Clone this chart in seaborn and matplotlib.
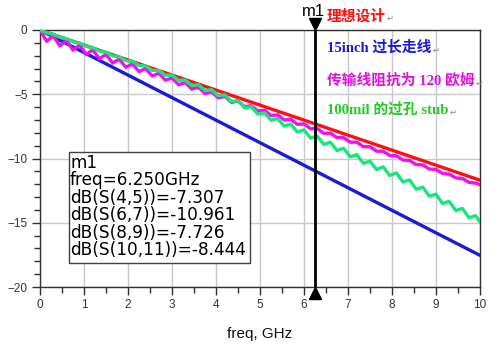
import matplotlib
matplotlib.use("Agg")
import matplotlib.pyplot as plt
import matplotlib.transforms as mtransforms
from matplotlib.patches import Rectangle
import numpy as np
import pandas as pd
import seaborn as sns

# ---------------- data ----------------
freq_line = [0.0, 10.0]
s45 = [0.0, -11.69]      # 理想设计 (red)
s67 = [0.0, -17.54]      # 15inch 过长走线 (blue)

freq_ripple = [0.00, 0.15, 0.30, 0.45, 0.60, 0.75, 0.90, 1.05, 1.20, 1.35,
               1.50, 1.65, 1.80, 1.95, 2.10, 2.25, 2.40, 2.55, 2.70, 2.85,
               3.00, 3.15, 3.30, 3.45, 3.60, 3.75, 3.90, 4.05, 4.20, 4.35,
               4.50, 4.65, 4.80, 4.95, 5.10, 5.25, 5.40, 5.55, 5.70, 5.85,
               6.00, 6.15, 6.30, 6.45, 6.60, 6.75, 6.90, 7.05, 7.20, 7.35,
               7.50, 7.65, 7.80, 7.95, 8.10, 8.25, 8.40, 8.55, 8.70, 8.85,
               9.00, 9.15, 9.30, 9.45, 9.60, 9.75, 9.90, 10.00]
# 传输线阻抗为 120 欧姆 (magenta)
s89 = [0.00, -0.88, -0.45, -1.23, -0.81, -1.57, -1.17, -1.90, -1.54, -2.24,
       -1.90, -2.57, -2.27, -2.90, -2.64, -3.24, -3.00, -3.58, -3.37, -3.91,
       -3.73, -4.26, -4.09, -4.60, -4.45, -4.94, -4.81, -5.28, -5.17, -5.63,
       -5.53, -5.97, -5.89, -6.31, -6.24, -6.65, -6.60, -7.00, -6.96, -7.34,
       -7.31, -7.69, -7.67, -8.04, -8.03, -8.38, -8.38, -8.73, -8.73, -9.08,
       -9.08, -9.43, -9.44, -9.77, -9.79, -10.12, -10.15, -10.47, -10.50, -10.82,
       -10.85, -11.17, -11.21, -11.51, -11.56, -11.86, -11.91, -12.05]
# 100mil 的过孔 stub (green)
s1011 = [0.00, -0.21, -0.32, -0.56, -0.67, -0.91, -1.01, -1.27, -1.37, -1.64,
         -1.73, -2.01, -2.08, -2.38, -2.44, -2.76, -2.80, -3.14, -3.16, -3.52,
         -3.52, -3.92, -3.89, -4.32, -4.26, -4.71, -4.64, -5.11, -5.05, -5.56,
         -5.50, -6.05, -5.97, -6.54, -6.45, -7.02, -6.89, -7.48, -7.33, -7.94,
         -7.77, -8.41, -8.25, -8.90, -8.73, -9.38, -9.20, -9.87, -9.70, -10.38,
         -10.21, -10.86, -10.65, -11.32, -11.12, -11.83, -11.67, -12.39, -12.23, -12.94,
         -12.78, -13.50, -13.34, -14.05, -13.89, -14.61, -14.45, -14.95]

marker_freq = 6.25
marker_lines = ["m1", "freq=6.250GHz", "dB(S(4,5))=-7.307", "dB(S(6,7))=-10.961",
                "dB(S(8,9))=-7.726", "dB(S(10,11))=-8.444"]
legend_labels = ["理想设计", "15inch 过长走线", "传输线阻抗为 120 欧姆", "100mil 的过孔 stub"]

c_red, c_blue, c_mag, c_green = "#ff1010", "#1a1ad8", "#f010f0", "#18e67a"

# ---------------- figure ----------------
sns.set_theme(style="white")
plt.rcParams['font.family'] = ['Liberation Sans', 'DejaVu Sans']

W, H = 500, 345
fig = plt.figure(figsize=(W / 100, H / 100), dpi=100)
ax = fig.add_axes([40 / W, 1 - 287 / H, 440 / W, 257 / H])

lw = 2.4
df_lin = pd.DataFrame({"freq": freq_line, "s45": s45, "s67": s67})
df_rip = pd.DataFrame({"freq": freq_ripple, "s89": s89, "s1011": s1011})
sns.lineplot(data=df_lin, x="freq", y="s67", color=c_blue, lw=lw, ax=ax, zorder=3)
sns.lineplot(data=df_lin, x="freq", y="s45", color=c_red, lw=lw, ax=ax, zorder=3)
sns.lineplot(data=df_rip, x="freq", y="s89", color=c_mag, lw=lw, ax=ax, zorder=3,
             sort=False, solid_joinstyle="round")
sns.lineplot(data=df_rip, x="freq", y="s1011", color=c_green, lw=lw, ax=ax, zorder=3,
             sort=False, solid_joinstyle="round")

ax.set_xlim(0, 10)
ax.set_ylim(-20, 0)
ax.set_xticks(range(0, 11))
ax.set_xticks(np.arange(0.5, 10, 1.0), minor=True)
ax.set_yticks([0, -5, -10, -15, -20])
ax.set_yticks([v for v in range(-19, 0) if v % 5 != 0], minor=True)
ax.grid(True, which="major", color="#c8c8c8", lw=1.0)
ax.set_axisbelow(True)
for sp in ax.spines.values():
    sp.set_color("#303030")
    sp.set_linewidth(1.0)
ax.tick_params(axis="both", which="major", length=6, width=1, color="#303030",
               labelsize=8.5, labelcolor="#333333", direction="out", pad=3,
               left=True, bottom=True)
ax.tick_params(axis="both", which="minor", length=4, width=1, color="#303030",
               direction="out", left=True, bottom=True)
ax.set_xlabel("freq, GHz", fontsize=11, color="#111111", labelpad=11)
ax.set_ylabel("")

# marker m1
ax.axvline(marker_freq, color="black", lw=2.0, zorder=5)
trans = mtransforms.blended_transform_factory(ax.transData, ax.transAxes)
ax.plot([marker_freq], [1.022], marker="v", ms=8, color="black", transform=trans,
        clip_on=False, zorder=6)
ax.plot([marker_freq], [-0.022], marker="^", ms=8, color="black", transform=trans,
        clip_on=False, zorder=6)
fig.text(313 / W, 1 - 11 / H, "m1", fontsize=12, ha="center", va="center", color="black")

# marker readout box
fig.patches.append(Rectangle((69 / W, 1 - 263 / H), 181 / W, 111 / H,
                             transform=fig.transFigure, facecolor="white",
                             edgecolor="#404040", lw=1.0, zorder=10))
for i, t in enumerate(marker_lines):
    fig.text(70 / W, 1 - (163 + i * 17.4) / H, t, fontsize=12.2, ha="left", va="center",
             color="black", zorder=11, family=['DejaVu Sans'])

# annotation legend
leg_fam = ['Liberation Serif', 'Noto Sans CJK SC', 'DejaVu Sans']
leg_pos = [(327, 16), (327, 48), (327, 81), (327, 110)]
leg_cols = [c_red, "#1a1ad8", "#e010e0", "#22cc22"]
for (x, y), t, c in zip(leg_pos, legend_labels, leg_cols):
    txt = fig.text(x / W, 1 - y / H, t, fontsize=10.6, fontweight="bold", ha="left",
                   va="center", color=c, family=leg_fam, zorder=12)
    fig.canvas.draw()
    bb = txt.get_window_extent()
    fig.text((bb.x1 + 1) / W, 1 - (y + 2) / H, "↵", fontsize=6, ha="left", va="center",
             color="#888888", family=['DejaVu Sans'], zorder=12)

fig.savefig("out.png", dpi=100)
